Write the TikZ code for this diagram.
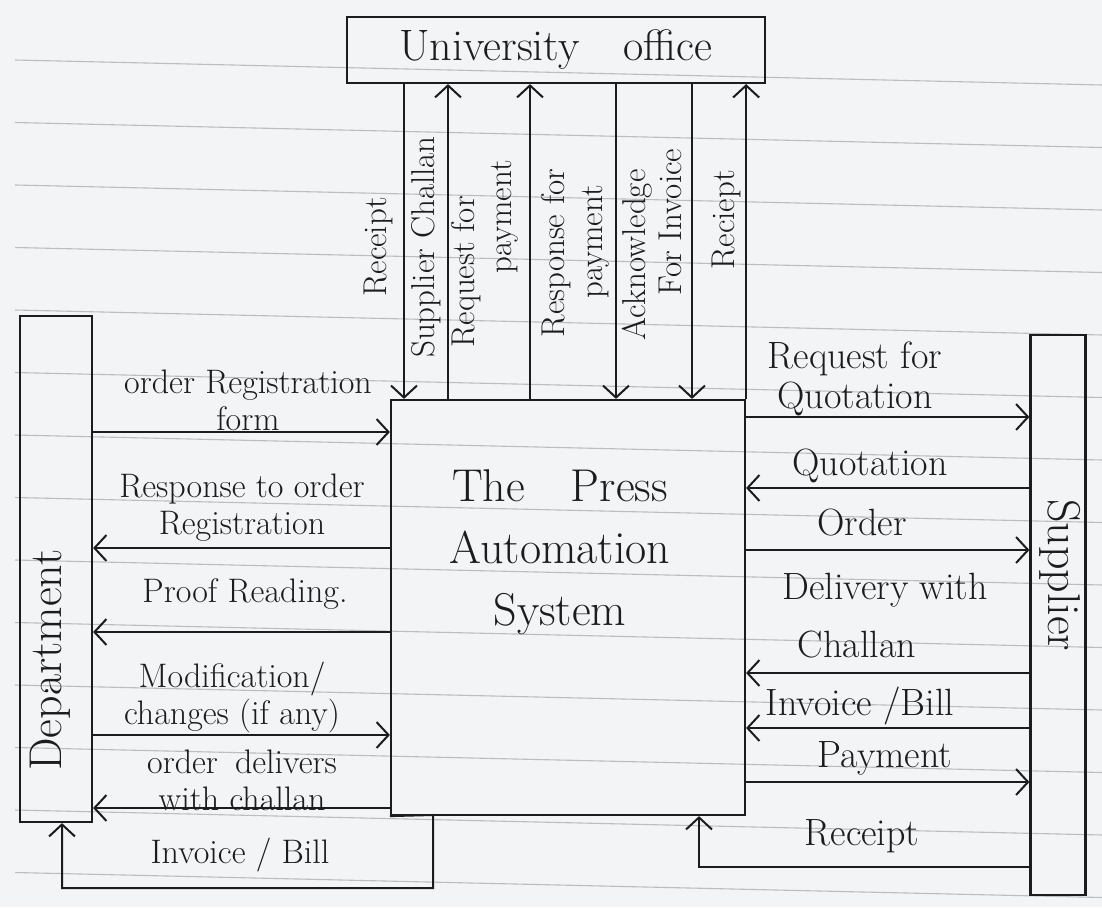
\documentclass[tikz,border=0pt]{standalone}
\usetikzlibrary{arrows.meta}
\definecolor{paper}{RGB}{243,244,245}
\definecolor{ink}{RGB}{28,28,30}
\definecolor{ruling}{RGB}{188,188,194}
\tikzset{
  boxsty/.style={draw=ink, line width=2.2pt, inner sep=0pt},
  flow/.style={draw=ink, line width=2pt, -{Straight Barb[length=12pt,width=26pt]}},
  paperline/.style={draw=ruling, line width=1.1pt},
  lbl/.style={text=ink, inner sep=0pt, align=center, font=\fontsize{34}{37}\selectfont},
  rlbl/.style={lbl, font=\fontsize{38}{40}\selectfont},
  vlbl/.style={text=ink, inner sep=0pt, rotate=90, font=\fontsize{33}{33}\selectfont},
  biglbl/.style={text=ink, inner sep=0pt, align=center, font=\fontsize{46}{62}\selectfont},
}
\begin{document}
\begin{tikzpicture}[x=1pt,y=-1pt]
\fill[paper] (0,0) rectangle (1102,907);
\useasboundingbox (0,0) rectangle (1102,907);
% ruled paper
\foreach \k in {0,...,13}{
  \draw[paperline] (15,60+62.5*\k) -- (1102,85+62.5*\k);
}

% entities and process
\node[boxsty, minimum width=418pt, minimum height=66pt, text=ink,
      font=\fontsize{44}{44}\selectfont] (office) at (556,50) {University\quad office};
\node[boxsty, minimum width=354pt, minimum height=415pt] (sys) at (568,607.5) {};
\node[biglbl] (systxt) at (560,552) {The\quad Press\\Automation\\System};
\node[boxsty, minimum width=72pt, minimum height=506pt] (dept) at (56,569) {};
\node[text=ink, inner sep=0pt, rotate=90, font=\fontsize{46}{46}\selectfont] (depttxt) at (50,660) {Department};
\node[boxsty, minimum width=55pt, minimum height=560pt] (sup) at (1058,615) {};
\node[text=ink, inner sep=0pt, rotate=-90, font=\fontsize{46}{46}\selectfont] (suptxt) at (1060,575) {Supplier};

% University office <-> system
\draw[flow] (office.south -| 404,0) -- (sys.north -| 404,0);
\draw[flow] (sys.north -| 448,0) -- (office.south -| 448,0);
\draw[flow] (sys.north -| 530,0) -- (office.south -| 530,0);
\draw[flow] (office.south -| 616,0) -- (sys.north -| 616,0);
\draw[flow] (office.south -| 692,0) -- (sys.north -| 692,0);
\draw[flow] (sys.north east) -- (office.south -| sys.north east);

\node[vlbl] (u1) at (378,247) {Receipt};
\node[vlbl] (u2) at (426,247) {Supplier Challan};
\node[vlbl] (u3a) at (466,272) {Request for};
\node[vlbl] (u3b) at (505,217) {payment};
\node[vlbl] (u4a) at (556,253) {Response for};
\node[vlbl] (u4b) at (596,242) {payment};
\node[vlbl] (u5a) at (637,255) {Acknowledge};
\node[vlbl] (u5b) at (670,222) {For Invoice};
\node[vlbl] (u6) at (726,220) {Reciept};

% Department <-> system
\draw[flow] (dept.east |- 0,432) -- (sys.west |- 0,432);
\draw[flow] (sys.west |- 0,548) -- (dept.east |- 0,548);
\draw[flow] (sys.west |- 0,632) -- (dept.east |- 0,632);
\draw[flow] (dept.east |- 0,735) -- (sys.west |- 0,735);
\draw[flow] (sys.west |- 0,808) -- (dept.east |- 0,808);
\draw[flow] (sys.south west) -- (433,815) -- (433,888) -- (62,888) -- (dept.south -| 62,0);

\node[lbl] (d1) at (248,400) {order Registration\\form};
\node[lbl] (d2) at (242,508) {Response to order\\Registration};
\node[lbl] (d3) at (245,594) {Proof Reading.};
\node[lbl] (d4) at (232,698) {Modification/\\changes (if any)};
\node[lbl] (d5) at (242,780) {order\enspace delivers\\with challan};
\node[lbl] (d6) at (240,855) {Invoice / Bill};

% Supplier <-> system
\draw[flow] (sys.east |- 0,417) -- (sup.west |- 0,417);
\draw[flow] (sup.west |- 0,488) -- (sys.east |- 0,488);
\draw[flow] (sys.east |- 0,550) -- (sup.west |- 0,550);
\draw[flow] (sup.west |- 0,673) -- (sys.east |- 0,673);
\draw[flow] (sup.west |- 0,728) -- (sys.east |- 0,728);
\draw[flow] (sys.east |- 0,782) -- (sup.west |- 0,782);
\draw[flow] (sup.west |- 0,867) -- (699,867) -- (sys.south -| 699,0);

\node[rlbl] (s1) at (855,379) {Request for\\Quotation};
\node[rlbl] (s2) at (870,466) {Quotation};
\node[rlbl] (s3) at (862,523) {Order};
\node[rlbl] (s4) at (885,590) {Delivery with};
\node[rlbl] (s4b) at (857,645) {Challan};
\node[rlbl] (s5) at (860,706) {Invoice /Bill};
\node[rlbl] (s6) at (885,758) {Payment};
\node[rlbl] (s7) at (862,836) {Receipt};
\end{tikzpicture}
\end{document}
